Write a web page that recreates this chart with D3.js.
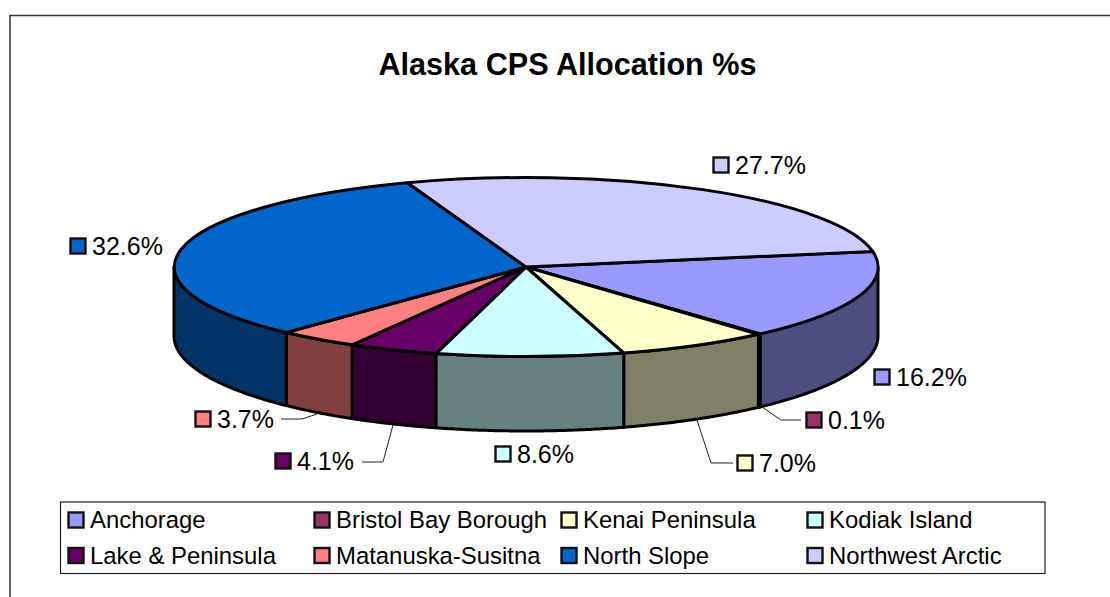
<!DOCTYPE html>
<html><head><meta charset="utf-8">
<script src="https://cdn.jsdelivr.net/npm/d3@7/dist/d3.min.js"></script>
<style>html,body{margin:0;padding:0;background:#fff}svg{display:block}text{font-family:"Liberation Sans",Arial,sans-serif;fill:#000}</style>
</head><body><div id="chart"></div>
<script>
const categories=["Anchorage","Bristol Bay Borough","Kenai Peninsula","Kodiak Island","Lake & Peninsula","Matanuska-Susitna","North Slope","Northwest Arctic"];
const values=[16.2,0.1,7.0,8.6,4.1,3.7,32.6,27.7];
const valueLabels=["16.2%","0.1%","7.0%","8.6%","4.1%","3.7%","32.6%","27.7%"];
const topColors=["#9999FF","#993366","#FFFFCC","#CCFFFF","#660066","#FF8080","#0066CC","#CCCCFF"];
const sideColors=["#4D4D80","#4D1A33","#808066","#668080","#330033","#804040","#003366","#666680"];
const title="Alaska CPS Allocation %s";

const W=1110,H=597,cx=526,cy=267,rx=352,ry=89.5,lowerCy=336,lowerRy=95,startDeg=80;
const swatchPos=[[874,369],[806,412],[737,455],[495,446],[275,453],[195,411],[70,238],[713,157]];
const leaders=[null,[[762,407],[781,420],[801,420]],[[697,420],[711,463],[733,463]],null,[[393,425],[383,462],[362,462]],[[317,414],[302,419],[281,419]],null,null];
const legendCols=[68,314,561,807],legendRows=[512,547.5];

const svg=d3.select("#chart").append("svg").attr("width",W).attr("height",H);
svg.append("path").attr("d",`M10,${H}V15.5H${W}`).attr("fill","none").attr("stroke","#333").attr("stroke-width",1.5);
svg.append("text").attr("x",567.5).attr("y",75).attr("text-anchor","middle").attr("font-size",30.6).attr("font-weight","bold").text(title);

const start=startDeg*Math.PI/180;
const pie=d3.pie().sort(null).startAngle(start).endAngle(start+2*Math.PI)(values);
const px=d3.scaleLinear().domain([-1,1]).range([cx-rx,cx+rx]);
const py=d3.scaleLinear().domain([-1,1]).range([cy+ry,cy-ry]);
const pyLow=d3.scaleLinear().domain([-1,1]).range([lowerCy+lowerRy,lowerCy-lowerRy]);
const ptTop=a=>[px(Math.sin(a)),py(Math.cos(a))];
const ptLow=a=>[px(Math.sin(a)),pyLow(Math.cos(a))];
const line=d3.line();

const rim=svg.append("g");
const lo=Math.PI/2,hi=3*Math.PI/2;
pie.forEach((d,i)=>{
  const a0=Math.max(d.startAngle,lo),a1=Math.min(d.endAngle,hi);
  if(a1<=a0)return;
  const angs=d3.range(0,61).map(k=>a0+(a1-a0)*k/60);
  const pts=angs.map(ptTop).concat(angs.slice().reverse().map(ptLow));
  rim.append("path").attr("d",line(pts)+"Z").attr("fill",sideColors[i]).attr("stroke","#000").attr("stroke-width",3).attr("stroke-linejoin","round");
});

const arc=d3.arc().innerRadius(0).outerRadius(1);
svg.append("g").attr("transform",`translate(${cx},${cy}) scale(${rx},${ry})`)
  .selectAll("path").data(pie).join("path")
  .attr("d",arc).attr("fill",(d,i)=>topColors[i])
  .attr("stroke","#000").attr("stroke-width",3).attr("stroke-linejoin","round")
  .attr("vector-effect","non-scaling-stroke");

leaders.forEach(l=>{if(l)svg.append("path").attr("d",line(l)).attr("fill","none").attr("stroke","#222").attr("stroke-width",1);});

const swatch=(x,y,c)=>svg.append("rect").attr("x",x+.5).attr("y",y+.5).attr("width",15).attr("height",15).attr("fill",c).attr("stroke","#111").attr("stroke-width",2.4);
valueLabels.forEach((t,i)=>{
  const [x,y]=swatchPos[i];
  swatch(x,y,topColors[i]);
  svg.append("text").attr("x",x+22).attr("y",y+17).attr("font-size",25).attr("fill","#111").text(t);
});

svg.append("rect").attr("x",60.5).attr("y",502).attr("width",984.5).attr("height",71.5).attr("fill","#fff").attr("stroke","#222").attr("stroke-width",1.2);
categories.forEach((t,i)=>{
  const x=legendCols[i%4],y=legendRows[Math.floor(i/4)];
  swatch(x,y,topColors[i]);
  svg.append("text").attr("x",x+22).attr("y",y+16).attr("font-size",23.9).text(t);
});
</script></body></html>
